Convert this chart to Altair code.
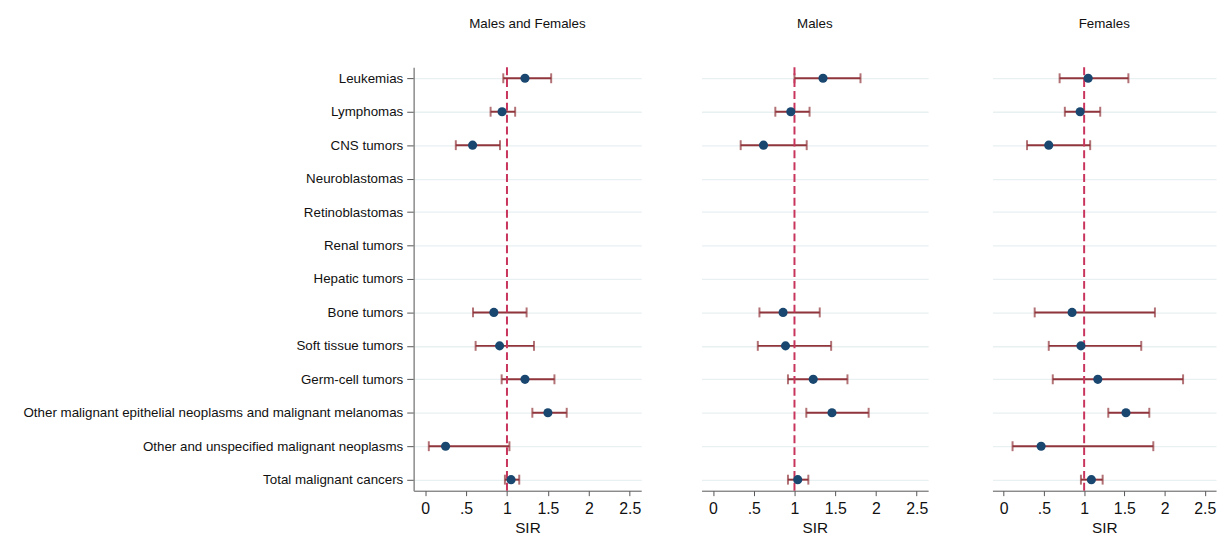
import altair as alt
import pandas as pd

categories = [
    "Leukemias", "Lymphomas", "CNS tumors", "Neuroblastomas", "Retinoblastomas",
    "Renal tumors", "Hepatic tumors", "Bone tumors", "Soft tissue tumors",
    "Germ-cell tumors",
    "Other malignant epithelial neoplasms and malignant melanomas",
    "Other and unspecified malignant neoplasms", "Total malignant cancers",
]
panels = ["Males and Females", "Males", "Females"]

# SIR estimates and 95% CI (None = not shown)
sir_all = [1.22, 0.94, 0.58, None, None, None, None, 0.84, 0.91, 1.22, 1.50, 0.25, 1.05]
lo_all = [0.955, 0.80, 0.375, None, None, None, None, 0.585, 0.617, 0.935, 1.31, 0.045, 0.975]
hi_all = [1.54, 1.10, 0.915, None, None, None, None, 1.24, 1.33, 1.58, 1.73, 1.03, 1.15]

sir_m = [1.35, 0.955, 0.62, None, None, None, None, 0.86, 0.89, 1.23, 1.46, None, 1.04]
lo_m = [1.0, 0.765, 0.34, None, None, None, None, 0.57, 0.55, 0.92, 1.145, None, 0.92]
hi_m = [1.81, 1.185, 1.15, None, None, None, None, 1.31, 1.45, 1.65, 1.91, None, 1.17]

sir_f = [1.05, 0.95, 0.56, None, None, None, None, 0.85, 0.96, 1.17, 1.52, 0.465, 1.09]
lo_f = [0.695, 0.76, 0.29, None, None, None, None, 0.385, 0.56, 0.61, 1.30, 0.11, 0.96]
hi_f = [1.55, 1.20, 1.075, None, None, None, None, 1.88, 1.71, 2.23, 1.81, 1.86, 1.23]

series = {
    "Males and Females": (sir_all, lo_all, hi_all),
    "Males": (sir_m, lo_m, hi_m),
    "Females": (sir_f, lo_f, hi_f),
}

rows = []
for p in panels:
    s, l, h = series[p]
    for c, sv, lv, hv in zip(categories, s, l, h):
        if sv is not None:
            rows.append({"panel": p, "cat": c, "sir": sv, "lo": lv, "hi": hv})
df = pd.DataFrame(rows)

DOT = "#1a476f"
CI = "#90353b"
REF = "#c8345c"
FONT = "Liberation Sans"

xdomain = [-0.14, 2.64]
label_expr = "datum.value == 0.5 ? '.5' : toString(datum.value)"


def panel(name, width, first):
    d = df[df.panel == name]
    xs = alt.Scale(domain=xdomain, nice=False, zero=False)
    ys = alt.Scale(type="point", domain=categories, padding=0.33)
    if first:
        yaxis = alt.Axis(title=None, grid=True, gridColor="#e9f0f2", gridWidth=1.3,
                         domain=True, domainColor="#8a8a8a", domainWidth=1.5,
                         ticks=True, tickColor="#555555", tickSize=7, tickWidth=1,
                         labelFont=FONT, labelFontSize=13.5, labelColor="#111111",
                         labelPadding=4, labelLimit=500)
    else:
        yaxis = alt.Axis(title=None, grid=True, gridColor="#e9f0f2", gridWidth=1.3,
                         domain=False, ticks=False, labels=False)
    xaxis = alt.Axis(title="SIR", values=[0, 0.5, 1, 1.5, 2, 2.5], labelExpr=label_expr,
                     grid=False, domainColor="#555555", domainWidth=1,
                     tickColor="#555555", tickSize=5, labelFont=FONT, labelFontSize=16,
                     labelColor="#111111", labelPadding=5, titleFont=FONT,
                     titleFontSize=15.5, titleFontWeight="normal", titleColor="#111111",
                     titlePadding=4)
    base = alt.Chart(d)
    ci = base.mark_rule(color=CI, strokeWidth=2).encode(
        x=alt.X("lo:Q", scale=xs, axis=xaxis), x2="hi:Q",
        y=alt.Y("cat:N", scale=ys, axis=yaxis, sort=categories))
    cap_lo = base.mark_tick(color=CI, orient="vertical", size=10, thickness=2).encode(
        x="lo:Q", y=alt.Y("cat:N", sort=categories))
    cap_hi = base.mark_tick(color=CI, orient="vertical", size=10, thickness=2).encode(
        x="hi:Q", y=alt.Y("cat:N", sort=categories))
    ref = alt.Chart(pd.DataFrame({"v": [1]})).mark_rule(
        color=REF, strokeWidth=2, strokeDash=[8, 4]).encode(x="v:Q")
    dots = base.mark_circle(color=DOT, size=85, opacity=1).encode(
        x="sir:Q", y=alt.Y("cat:N", sort=categories))
    return alt.layer(ci, cap_lo, cap_hi, ref, dots).properties(
        width=width, height=428,
        title=alt.TitleParams(name, font=FONT, fontSize=13.5, fontWeight="normal",
                              color="#111111", anchor="middle", offset=36))


p1 = panel("Males and Females", 230, True)
p2 = panel("Males", 229, False)
p3 = panel("Females", 226, False)

chart = alt.hconcat(p1, alt.hconcat(p2, p3, spacing=65), spacing=61).properties(
    padding={"left": 14, "top": 6, "right": 5, "bottom": 5}
).configure(background="white", view=alt.ViewConfig(stroke=None))

chart.save("out.html", embed_options={"renderer": "svg", "actions": False})
